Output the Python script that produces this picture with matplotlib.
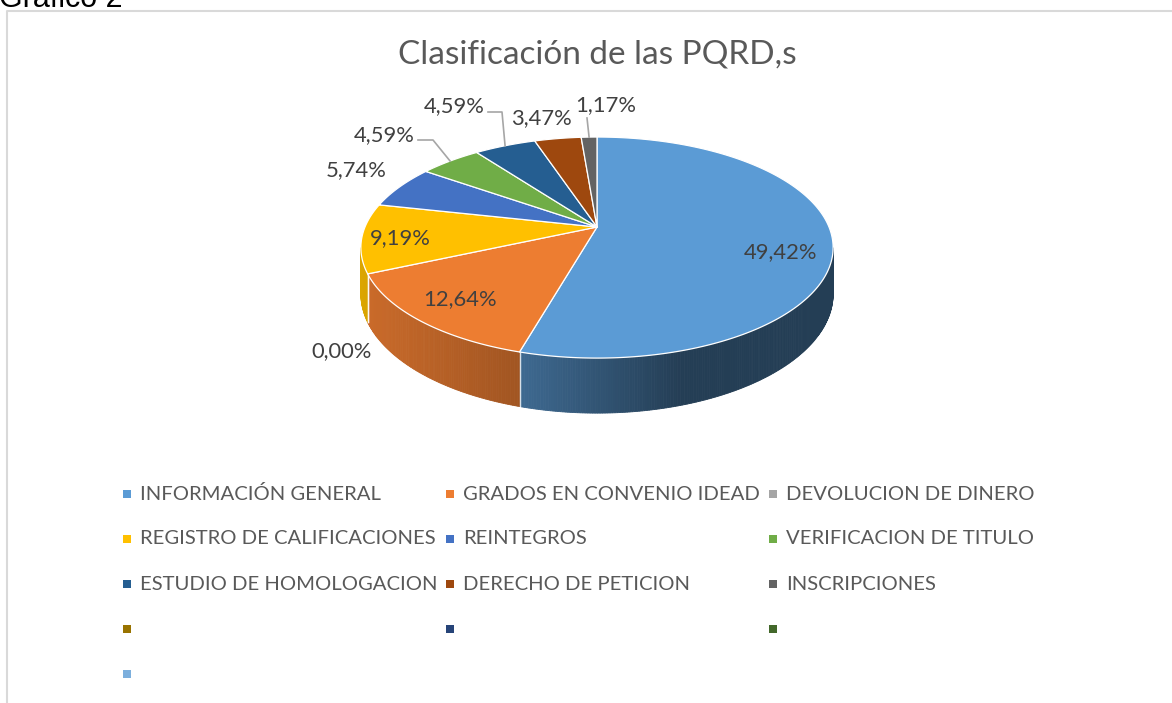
import numpy as np
import matplotlib.pyplot as plt
from matplotlib.patches import Polygon

# data (values as printed in the labels, Excel normalises the pie)
categories = ["INFORMACIÓN GENERAL", "GRADOS EN CONVENIO IDEAD", "DEVOLUCION DE DINERO",
              "REGISTRO DE CALIFICACIONES", "REINTEGROS", "VERIFICACION DE TITULO",
              "ESTUDIO DE HOMOLOGACION", "DERECHO DE PETICION", "INSCRIPCIONES",
              "", "", "", ""]
values = [49.42, 12.64, 0.00, 9.19, 5.74, 4.59, 4.59, 3.47, 1.17]
colors = ["#5B9BD5", "#ED7D31", "#A5A5A5", "#FFC000", "#4472C4", "#70AD47",
          "#255E91", "#9E480E", "#636363", "#997300", "#264478", "#43682B", "#7CAFDD"]
title = "Clasificación de las PQRD,s"

TEXT = "#595959"
FONT = "Lato"

# 3D pie geometry (pixels), simple perspective
CX, CY = 597, 227
RX, RY = 232, 106.7
K = 0.186
DEPTH = 44.8


def proj(theta, r=1.0, z=0.0):
    """theta in degrees, clockwise from 12 o'clock"""
    t = np.radians(90 - np.asarray(theta, dtype=float))
    u, v = r * np.cos(t), r * np.sin(t)
    s = 1.0 / (1.0 + K * v)
    return CX + RX * u * s, CY - RY * v * s + z * s


def shade(color, x):
    f = np.interp(x, [360, 520, 600, 680, 840], [0.86, 0.68, 0.54, 0.40, 0.40])
    rgb = np.array(plt.matplotlib.colors.to_rgb(color))
    return tuple(np.clip(rgb * f, 0, 1))


fig = plt.figure(figsize=(11.72, 7.03), dpi=100)
ax = fig.add_axes([0, 0, 1, 1])
ax.set_xlim(0, 1172)
ax.set_ylim(703, 0)
ax.axis("off")

vals = np.array(values)
angles = np.concatenate(([0.0], np.cumsum(vals) / vals.sum() * 360.0))
asil = np.degrees(np.arcsin(K))
vis_lo, vis_hi = 90 + asil, 270 - asil

# side walls
for i, v in enumerate(values):
    lo = max(angles[i], vis_lo)
    hi = min(angles[i + 1], vis_hi)
    if hi <= lo:
        continue
    n = max(2, int((hi - lo) / 0.5))
    ths = np.linspace(lo, hi, n + 1)
    for a0, a1 in zip(ths[:-1], ths[1:]):
        x0, y0 = proj(a0)
        x1, y1 = proj(a1)
        x2, y2 = proj(a1, z=DEPTH)
        x3, y3 = proj(a0, z=DEPTH)
        c = shade(colors[i], (x0 + x1) / 2)
        ax.add_patch(Polygon([(x0, y0), (x1, y1), (x2, y2), (x3, y3)],
                             closed=True, facecolor=c, edgecolor=c, lw=0.6, zorder=1))

# white seams on the side walls
for a in angles[1:-1]:
    if vis_lo < a < vis_hi:
        xa, ya = proj(a)
        xb, yb = proj(a, z=DEPTH)
        ax.plot([xa, xb], [ya, yb], color="white", lw=1.0, alpha=0.8, zorder=1.5)

# top faces
for i, v in enumerate(values):
    if v <= 0:
        continue
    ths = np.linspace(angles[i], angles[i + 1], max(3, int((angles[i + 1] - angles[i]) * 2)))
    xs, ys = proj(ths)
    pts = [(CX, CY)] + list(zip(xs, ys))
    ax.add_patch(Polygon(pts, closed=True, facecolor=colors[i], edgecolor="white",
                         lw=0.9, joinstyle="round", zorder=2))

# data labels
label_pos = [(781, 252), (460, 299), (342, 351), (400, 238), (356, 170),
             (384, 135), (454, 106), (541, 118), (606, 105)]
for v, (lx, ly) in zip(values, label_pos):
    ax.text(lx, ly, f"{v:.2f}%".replace(".", ","), ha="center", va="center",
            fontsize=15.8, color="#404040", family=FONT, zorder=4)

# leader lines for the small outer labels
leaders = {5: [(418, 140), (433, 140)], 6: [(488, 112), (502, 112)], 8: [(587, 118)]}
for i, pts in leaders.items():
    mid = (angles[i] + angles[i + 1]) / 2
    ex, ey = proj(mid)
    xs = [p[0] for p in pts] + [ex]
    ys = [p[1] for p in pts] + [ey]
    ax.plot(xs, ys, color="#A6A6A6", lw=1.2, zorder=3)

# title
ax.text(597, 55, title, ha="center", va="center", fontsize=24, color=TEXT, family=FONT)

# legend, filled row by row like Excel
col_x = [127, 450, 773]
row_y = [494, 539, 584, 629, 674]
for i, name in enumerate(categories):
    r, c = divmod(i, 3)
    ax.scatter(col_x[c], row_y[r], marker="s", s=36, color=colors[i], lw=0, zorder=3)
    ax.text(col_x[c] + 13, row_y[r], name, ha="left", va="center",
            fontsize=14.6, color=TEXT, family=FONT)

# chart frame and caption peeking from above
ax.plot([7, 7, 1172], [703, 10.5, 10.5], color="#D9D9D9", lw=1.5, zorder=0)
ax.text(-1, 7, "Gráfico 2", ha="left", va="baseline", fontsize=22,
        color="black", family="Liberation Sans")

fig.savefig("out.png", dpi=100)
